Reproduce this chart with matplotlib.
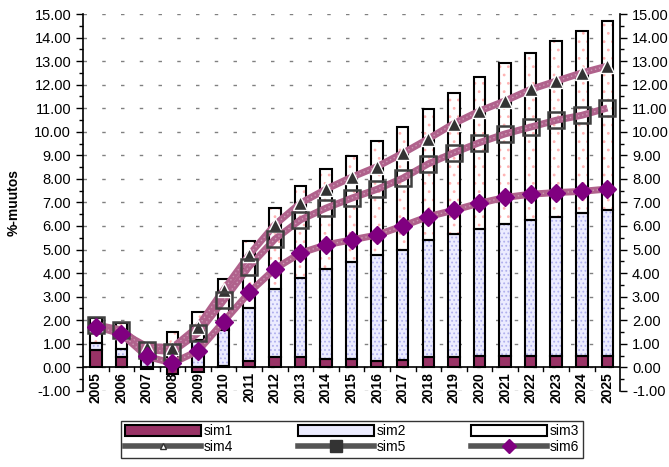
import numpy as np
import matplotlib
matplotlib.use("Agg")
import matplotlib.pyplot as plt
from matplotlib.patches import Patch
from matplotlib.lines import Line2D

plt.rcParams['font.family'] = ['Liberation Sans', 'DejaVu Sans']
plt.rcParams['hatch.linewidth'] = 0.8

years = [str(y) for y in range(2005, 2026)]
sim1 = [0.74, 0.43, -0.07, -0.28, -0.20, 0.06, 0.28, 0.43, 0.43, 0.35, 0.35,
        0.28, 0.30, 0.42, 0.42, 0.49, 0.49, 0.49, 0.49, 0.49, 0.49]
sim2 = [0.29, 0.35, 0.88, 0.15, 1.15, 1.53, 2.23, 2.89, 3.38, 3.83, 4.12,
        4.47, 4.66, 4.98, 5.23, 5.37, 5.61, 5.76, 5.90, 6.08, 6.20]
sim3 = [1.06, 1.09, 0.10, 1.37, 1.22, 2.17, 2.86, 3.46, 3.89, 4.26, 4.51,
        4.84, 5.26, 5.56, 6.00, 6.45, 6.83, 7.10, 7.45, 7.69, 8.03]
sim4 = [1.78, 1.48, 0.88, 0.84, 1.73, 3.29, 4.78, 6.05, 6.97, 7.56, 8.07,
        8.52, 9.09, 9.70, 10.35, 10.88, 11.31, 11.80, 12.15, 12.50, 12.79]
sim5 = [1.80, 1.59, 0.74, 0.67, 1.45, 2.84, 4.28, 5.44, 6.26, 6.76, 7.18,
        7.56, 8.03, 8.64, 9.11, 9.54, 9.91, 10.20, 10.49, 10.70, 11.01]
sim6 = [1.73, 1.42, 0.46, 0.18, 0.70, 1.94, 3.18, 4.18, 4.85, 5.20, 5.41,
        5.62, 6.00, 6.40, 6.67, 6.97, 7.21, 7.35, 7.42, 7.47, 7.57]

x = np.arange(len(years))
s1 = np.array(sim1)
s2 = np.array(sim2)
s3 = np.array(sim3)
base2 = np.where(s1 > 0, s1, 0)
base3 = base2 + s2

fig = plt.figure(figsize=(6.69, 4.67), dpi=100)
ax = fig.add_axes([0.124, 0.163, 0.803, 0.807])

w = 0.45
edge = dict(fill=False, edgecolor='black', linewidth=1.5, zorder=3)
# sim1
ax.bar(x, s1, w, color='#993366', edgecolor='black', linewidth=1.5, zorder=3)
# sim2 (dotted lavender)
ax.bar(x, s2, w, bottom=base2, color='#ececff', edgecolor='#b0b0ee',
       hatch='....', linewidth=0, zorder=2)
ax.bar(x, s2, w, bottom=base2, **edge)
# sim3 (white, pink dots)
ax.bar(x, s3, w, bottom=base3, color='white', edgecolor='#ffb4b4',
       hatch='..', linewidth=0, zorder=2)
ax.bar(x, s3, w, bottom=base3, **edge)

lc = '#b0628c'
for ser in (sim4, sim5, sim6):
    ax.plot(x, ser, color=lc, lw=5, zorder=4, solid_capstyle='butt')
    ax.plot(x, ser, color='white', lw=1, ls=(0, (1, 2)), alpha=0.35, zorder=4)
ax.plot(x, sim4, ls='none', marker='^', ms=10, mfc='#333333', mec='white', mew=1, zorder=5)
ax.plot(x, sim5, ls='none', marker='s', ms=12, mfc='none', mec='#404040', mew=1.8, zorder=5)
ax.plot(x, sim6, ls='none', marker='D', ms=9, mfc='#800080', mec='#800080', zorder=6)

ax.set_xlim(-0.5, len(years) - 0.5)
ax.set_ylim(-1, 15)
ticks = np.arange(-1, 16, 1)
ax.set_yticks(ticks)
ax.set_yticks(np.arange(-0.5, 15, 1), minor=True)
ax.set_yticklabels([f"{t:.2f}" for t in ticks], fontsize=10.5)
ax.tick_params(axis='y', which='major', length=5, width=1, direction='out')
ax.tick_params(axis='y', which='minor', length=3, width=1, direction='out')
ax.tick_params(axis='y', which='both', right=True, labelright=True)

for t in ticks:
    ax.axhline(t, color='#808080', lw=1, ls=(0, (2.5, 11)), zorder=1)

ax.set_xticks([])
ax.axhline(0, color='black', lw=1.2, zorder=3.5)
for b in np.arange(0.5, len(years) - 1, 1):
    ax.plot([b, b], [0, -0.17], color='black', lw=1, zorder=3.5)
for xi, lab in zip(x, years):
    ax.text(xi, -0.2, lab, rotation=90, ha='center', va='top',
            fontsize=10, fontweight='bold')

for s in ['top', 'bottom']:
    ax.spines[s].set_visible(False)
ax.spines['left'].set_linewidth(1.2)
ax.spines['right'].set_linewidth(1.2)

ax.set_ylabel('%-muutos', fontsize=10, fontweight='heavy', labelpad=10)

handles = [
    Patch(facecolor='#993366', edgecolor='black', linewidth=1.5),
    Patch(facecolor='#ececff', edgecolor='black', linewidth=1.5),
    Patch(facecolor='white', edgecolor='black', linewidth=1.5),
    Line2D([], [], color='#555555', lw=4, marker='^', ms=5, mfc='white', mec='#333333'),
    Line2D([], [], color='#555555', lw=4, marker='s', ms=8, mfc='#333333', mec='#333333'),
    Line2D([], [], color='#555555', lw=4, marker='D', ms=7, mfc='#800080', mec='#800080'),
]
labels = ['sim1', 'sim4', 'sim2', 'sim5', 'sim3', 'sim6']
order = [0, 3, 1, 4, 2, 5]
leg = fig.legend([handles[i] for i in order], labels, loc='center',
                 bbox_to_anchor=(0.181, 0.024, 0.69, 0.07), mode='expand',
                 ncol=3, fontsize=10, handlelength=5.5, handleheight=0.9,
                 handletextpad=0.2, borderaxespad=0, frameon=True, fancybox=False,
                 labelspacing=0.15, borderpad=0.25)
leg.get_frame().set_edgecolor('black')
leg.get_frame().set_linewidth(1)

fig.savefig('out.png', dpi=100)
